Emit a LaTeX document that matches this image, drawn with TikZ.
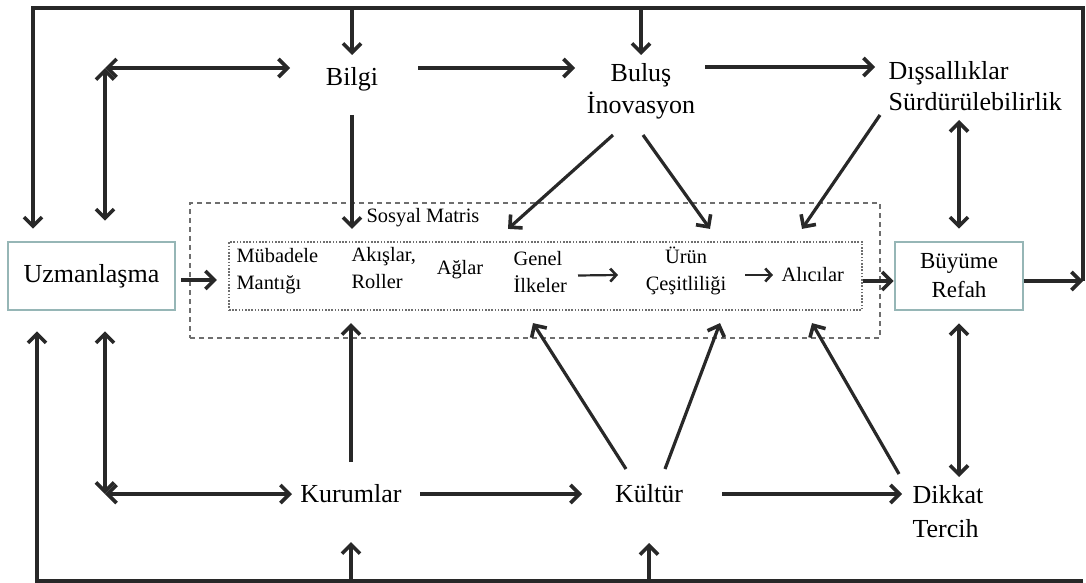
\documentclass[tikz,border=0pt]{standalone}
\usepackage{fontspec}
\setmainfont{Liberation Serif}
\usetikzlibrary{arrows.meta, positioning}

\definecolor{linegray}{RGB}{40,40,40}
\definecolor{boxteal}{RGB}{150,182,182}
\definecolor{dashgray}{RGB}{110,110,110}

\begin{document}
\begin{tikzpicture}[%
    x=0.5pt, y=-0.5pt,
    >={Straight Barb[length=4.5pt,width=9pt,line width=1.8pt]},
    line width=1.6pt,
    lbl/.style={inner sep=0pt, font=\fontsize{13}{16}\selectfont},
    inlbl/.style={inner sep=0pt, font=\fontsize{10.2}{13.5}\selectfont},
    mainbox/.style={draw=boxteal, line width=1.3pt, minimum height=34pt},
    arr/.style={->, draw=linegray},
    dbl/.style={<->, draw=linegray},
    minarr/.style={->, draw=linegray, line width=1.1pt,
      >={Straight Barb[length=3pt,width=6.5pt,line width=1.3pt]}}
  ]
  \useasboundingbox (0,0) rectangle (1086,583);

  % main nodes
  \node[lbl, align=center] (bilgi) at (352,79) {Bilgi};
  \node[lbl, align=center] (bulus) at (641,91) {Buluş\\İnovasyon};
  \node[lbl, align=left, anchor=west, font=\fontsize{13}{15.5}\selectfont] (dis) at (887,86) {Dışsallıklar\\Sürdürülebilirlik};
  \node[mainbox, lbl, minimum width=83.5pt] (uzm) at (91.5,276) {Uzmanlaşma};
  \node[mainbox, align=center, minimum width=64pt, inner sep=0pt,
    font=\fontsize{11.5}{14.5}\selectfont] (buy) at (959,276) {Büyüme\\Refah};
  \node[lbl] (kurumlar) at (351,494) {Kurumlar};
  \node[lbl] (kultur) at (649,494) {Kültür};
  \node[lbl, align=left, anchor=west, font=\fontsize{13}{17}\selectfont] (dikkat) at (911,512) {Dikkat\\Tercih};

  % sosyal matris
  \node[draw=dashgray, line width=0.9pt, dash pattern=on 2.5pt off 2pt,
    minimum width=345pt, minimum height=67.5pt] (outer) at (535,270.5) {};
  \node[draw=dashgray, line width=1.1pt, dash pattern=on 0.8pt off 0.8pt,
    minimum width=316.5pt, minimum height=34pt] (inner) at (545.5,276) {};
  \node[inlbl] (smlabel) at (423,218) {Sosyal Matris};

  \node[inlbl, align=left, anchor=west] (mub) at (235,271.5) {Mübadele\\Mantığı};
  \node[inlbl, align=left, anchor=west] (aki) at (350,268.5) {Akışlar,\\Roller};
  \node[inlbl] (aglar) at (460,270) {Ağlar};
  \node[inlbl, align=left, anchor=west] (genel) at (512,272) {Genel\\İlkeler};
  \node[inlbl, align=center] (urun) at (686,270.5) {Ürün\\Çeşitliliği};
  \node[inlbl, anchor=west] (alici) at (780,275) {Alıcılar};

  \draw[minarr] ([shift={(66,3.5)}]genel.west) -- ([shift={(-68,4.5)}]urun.center);
  \draw[minarr] ([shift={(59,4.5)}]urun.center) -- ([shift={(-7,0)}]alici.west);

  % outer loops
  \coordinate (nw) at (33,8);
  \coordinate (ne) at (1083,8);
  \coordinate (eo) at (1083,281);
  \coordinate (sw) at (37,581);
  \coordinate (se) at (1083,581);
  \coordinate (tl) at (105,68);
  \coordinate (bl) at (105,494);

  \draw[arr] ([yshift=-2.5pt]buy.east) -- (eo);
  \draw[arr] (eo) -- (ne) -- (nw) -- ([yshift=6pt]uzm.north -| nw);
  \draw[arr] (bilgi |- nw) -- ([yshift=12pt]bilgi.center);
  \draw[arr] (bulus |- nw) -- ([yshift=18pt]bulus.center);

  \draw[arr] (se) -- (sw) -- ([yshift=-10pt]uzm.south -| sw);
  \draw[arr] (kurumlar |- sw) -- ([yshift=-24pt]kurumlar.center);
  \draw[arr] (kultur |- sw) -- ([yshift=-24.5pt]kultur.center);

  \draw[dbl] (tl) -- ([shift={(-62,-11)}]bilgi.center);
  \draw[dbl] (tl) -- ([yshift=10pt]uzm.north -| tl);
  \draw[dbl] (bl) -- ([shift={(-59,0)}]kurumlar.center);
  \draw[dbl] (bl) -- ([yshift=-10pt]uzm.south -| bl);

  % top row
  \draw[arr] ([shift={(66,-11)}]bilgi.center) -- ([shift={(-66,-23)}]bulus.center);
  \draw[arr] ([shift={(64,-24)}]bulus.center) -- ([shift={(-12,-19)}]dis.west);
  \draw[arr] ([yshift=-18pt]bilgi.center) -- ([yshift=6pt]inner.north -| bilgi);
  \draw[arr] ([shift={(-28,44)}]bulus.center) -- ([shift={(-37.5,-12)}]inner.north);
  \draw[arr] ([shift={(2,44)}]bulus.center) -- ([shift={(164.5,-12)}]inner.north);
  \draw[arr] ([shift={(-7,29)}]dis.west) -- ([shift={(256.5,-12)}]inner.north);
  \draw[dbl] ([shift={(72,34)}]dis.west) -- ([yshift=6pt]buy.north);

  % middle row
  \draw[arr] ([shift={(2.5pt,-2pt)}]uzm.east) -- ([shift={(-5.5pt,-2pt)}]inner.west);
  \draw[arr] ([yshift=-2.5pt]inner.east) -- ([yshift=-2.5pt]buy.west);

  % bottom row
  \draw[dbl] ([yshift=-6pt]buy.south) -- ([shift={(48,-35)}]dikkat.west);
  \draw[arr] ([yshift=16pt]kurumlar.center) -- ([yshift=-6pt]inner.south -| kurumlar);
  \draw[arr] ([xshift=34.5pt]kurumlar.center) -- ([xshift=-33.5pt]kultur.center);
  \draw[arr] ([shift={(-23,-25)}]kultur.center) -- ([shift={(-12.5,12)}]inner.south);
  \draw[arr] ([shift={(16,-25)}]kultur.center) -- ([shift={(174.5,12)}]inner.south);
  \draw[arr] ([xshift=36.5pt]kultur.center) -- ([shift={(-9,-18)}]dikkat.west);
  \draw[arr] ([shift={(-12,-38)}]dikkat.west) -- ([shift={(266.5,12)}]inner.south);
\end{tikzpicture}
\end{document}
